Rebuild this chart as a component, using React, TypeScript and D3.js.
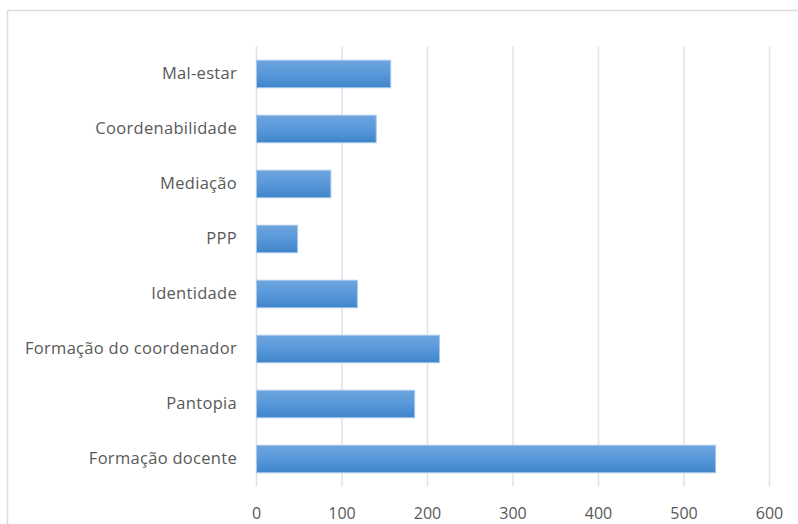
import React from "react";
import * as d3 from "d3";

const categories = [
  "Mal-estar",
  "Coordenabilidade",
  "Mediação",
  "PPP",
  "Identidade",
  "Formação do coordenador",
  "Pantopia",
  "Formação docente",
];
const values = [157, 140, 87, 48, 118, 214, 185, 537];
const ticks = [0, 100, 200, 300, 400, 500, 600];

export default function App() {
  const W = 798, H = 524;
  const x = d3.scaleLinear().domain([0, 600]).range([256.5, 769.5]);
  const y = d3.scaleBand<string>().domain(categories).range([46.5, 486.5]).paddingInner(0.5).paddingOuter(0.25);
  const font = "'Open Sans', 'Noto Sans', sans-serif";
  return (
    <svg width={W} height={H} style={{ position: "absolute", left: 0, top: 0 }}>
      <defs>
        <linearGradient id="barGrad" x1="0" y1="0" x2="0" y2="1">
          <stop offset="0" stopColor="#6ea5de" />
          <stop offset="0.5" stopColor="#5898da" />
          <stop offset="1" stopColor="#3f84c9" />
        </linearGradient>
      </defs>
      <rect x={0} y={0} width={W} height={H} fill="#fff" />
      <line x1={7.5} x2={W} y1={10.5} y2={10.5} stroke="#d9dce3" strokeWidth={1.5} />
      <line x1={7.5} x2={7.5} y1={10.5} y2={H} stroke="#d9dce3" strokeWidth={1.5} />
      {ticks.map((t) => (
        <line key={"g" + t} x1={x(t)} x2={x(t)} y1={46.5} y2={486.5} stroke="#dfe2e8" strokeWidth={1.5} />
      ))}
      {categories.map((c, i) => (
        <rect
          key={c}
          x={x(0)}
          y={y(c)!}
          width={x(values[i]) - x(0)}
          height={y.bandwidth()}
          fill="url(#barGrad)"
          stroke="#a9c8ec"
          strokeWidth={1}
        />
      ))}
      {categories.map((c) => (
        <text
          key={"l" + c}
          x={237}
          y={y(c)! + y.bandwidth() / 2 - 1.5}
          textAnchor="end"
          dominantBaseline="central"
          fontFamily={font}
          fontSize={16.5}
          letterSpacing={0.3}
          fill="#595959"
        >
          {c}
        </text>
      ))}
      {ticks.map((t) => (
        <text
          key={"t" + t}
          x={x(t)}
          y={513}
          textAnchor="middle"
          dominantBaseline="central"
          fontFamily={font}
          fontSize={16}
          fill="#595959"
        >
          {t}
        </text>
      ))}
    </svg>
  );
}
